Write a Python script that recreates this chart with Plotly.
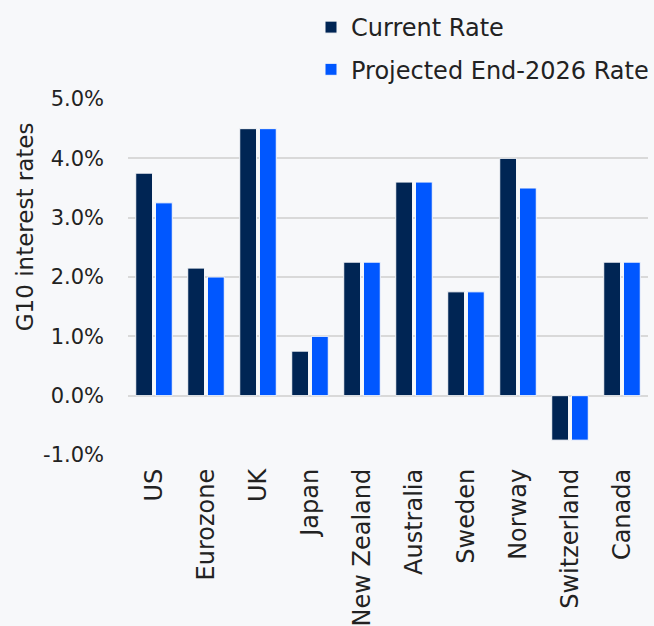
import plotly.graph_objects as go

countries = ["US", "Eurozone", "UK", "Japan", "New Zealand", "Australia",
             "Sweden", "Norway", "Switzerland", "Canada"]
current_rate = [3.75, 2.15, 4.5, 0.75, 2.25, 3.6, 1.75, 4.0, -0.75, 2.25]
projected_rate = [3.25, 2.0, 4.5, 1.0, 2.25, 3.6, 1.75, 3.5, -0.75, 2.25]
tick_vals = [-1, 0, 1, 2, 3, 4, 5]
tick_text = ["-1.0%", "0.0%", "1.0%", "2.0%", "3.0%", "4.0%", "5.0%"]

bg = "#f7f8fa"
font_name = "DejaVu Sans"

fig = go.Figure()
fig.add_trace(go.Bar(
    x=countries, y=current_rate, name="Current Rate",
    marker=dict(color="#002554", line=dict(color=bg, width=1)),
    legendgroup="a",
))
fig.add_trace(go.Bar(
    x=countries, y=projected_rate, name="Projected End-2026 Rate",
    marker=dict(color="#0057ff", line=dict(color=bg, width=1)),
    legendgroup="b",
))

fig.update_layout(
    width=654, height=626,
    paper_bgcolor=bg, plot_bgcolor=bg,
    font=dict(family=font_name, size=21, color="#222222"),
    margin=dict(l=128, r=0, t=99, b=171),
    barmode="group", bargap=0.24, bargroupgap=0.15,
    legend=dict(
        x=0.352, y=1.264, xanchor="left", yanchor="top",
        font=dict(size=24), traceorder="grouped", tracegroupgap=8,
        bgcolor="rgba(0,0,0,0)", itemwidth=30,
    ),
    xaxis=dict(
        tickangle=-90, showgrid=False, showline=False, ticks="",
        tickfont=dict(size=24), ticklabelstandoff=8,
    ),
    yaxis=dict(
        range=[-1, 5], tickvals=tick_vals, ticktext=tick_text,
        showgrid=True, gridcolor="#d9d9d9", gridwidth=2,
        zeroline=False, showline=False, ticks="",
        ticklabelstandoff=23,
    ),
    # axis title sits above the axis centre in the original, so place it by hand
    annotations=[dict(
        text="G10 interest rates", textangle=-90, showarrow=False,
        xref="paper", yref="paper", x=-0.198, y=0.64,
        xanchor="center", yanchor="middle", font=dict(size=23),
    )],
)

# no page margin, so the figure sits at the window's top-left corner
fig.write_html(
    "out.html",
    config={"displayModeBar": False},
    post_script="document.body.style.margin='0';"
                "document.body.style.background='" + bg + "';",
)
